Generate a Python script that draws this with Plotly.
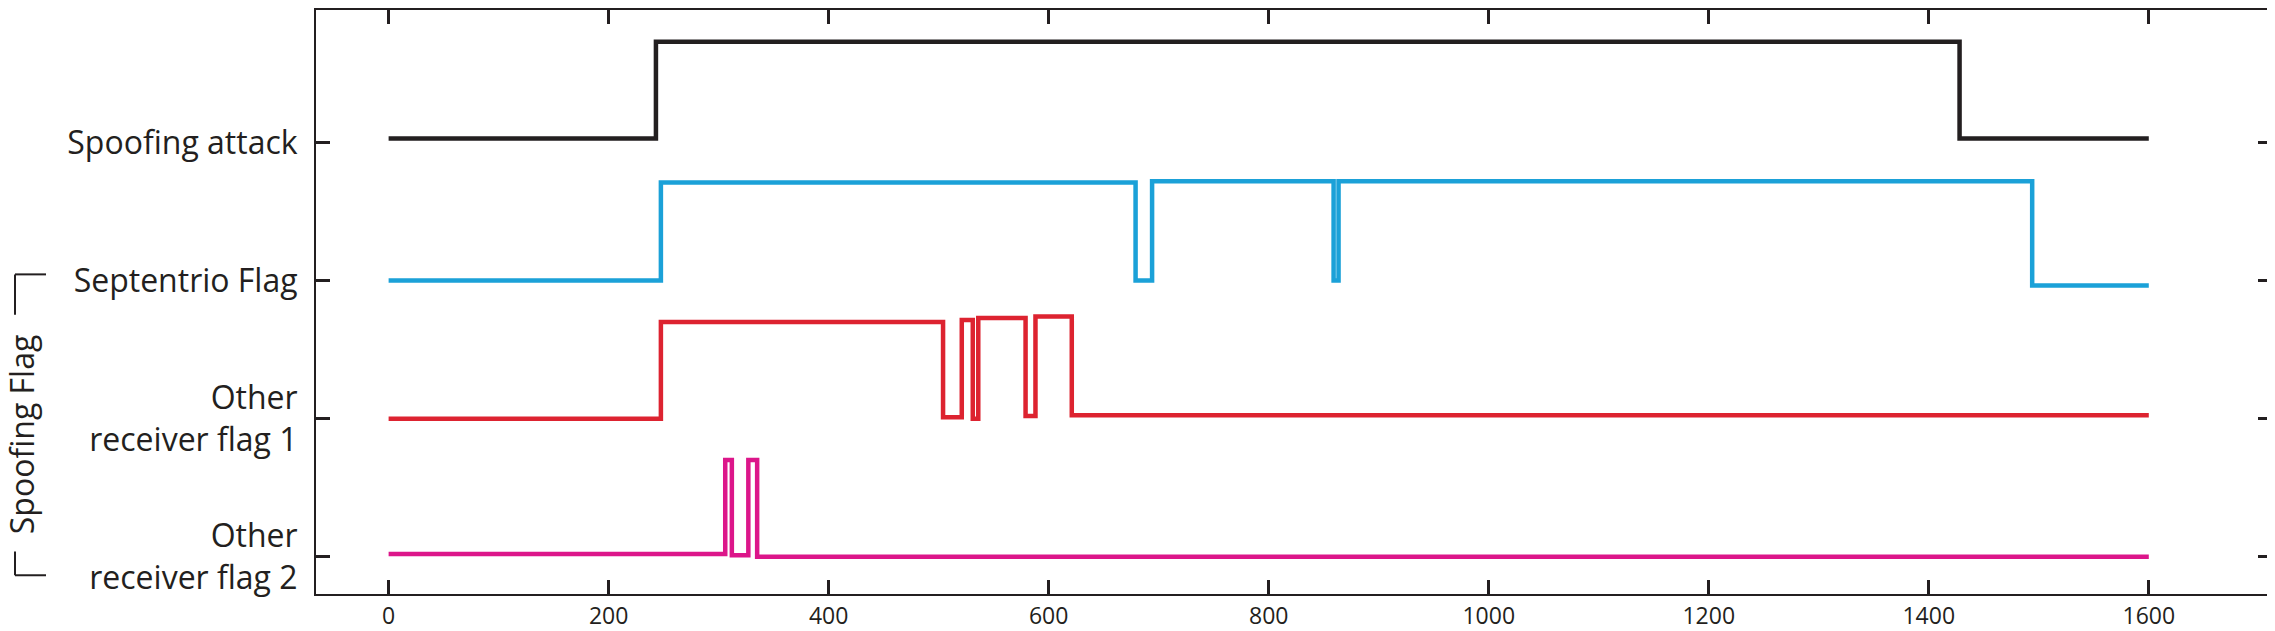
import plotly.graph_objects as go

# step signals: x = switching instants, y = level held from that instant (hv)
spoof_x = [0, 243, 1428, 1600]
spoof_y = [3.03, 3.73, 3.03, 3.03]

sept_x = [0, 247.5, 679, 694, 859, 863.5, 1494, 1600]
sept_y = [2.0, 2.71, 2.0, 2.72, 2.0, 2.72, 1.965, 1.965]

flag1_x = [0, 247.5, 504, 521, 531, 536, 579, 588, 621, 1600]
flag1_y = [1.0, 1.70, 1.01, 1.715, 1.0, 1.73, 1.02, 1.74, 1.025, 1.025]

flag2_x = [0, 306, 312, 327, 335, 1600]
flag2_y = [0.02, 0.70, 0.01, 0.70, 0.0, 0.0]

y_ticks = [0, 1, 2, 3]
y_labels = ["Other<br>receiver flag 2", "Other<br>receiver flag 1", "Septentrio Flag", "Spoofing attack"]
x_ticks = [0, 200, 400, 600, 800, 1000, 1200, 1400, 1600]

series = [
    (spoof_x, spoof_y, "#231f20"),
    (sept_x, sept_y, "#1ba1d8"),
    (flag1_x, flag1_y, "#dd2330"),
    (flag2_x, flag2_y, "#dc168a"),
]

fig = go.Figure()
for xs, ys, col in series:
    fig.add_trace(go.Scatter(x=xs, y=ys, mode="lines", line=dict(color=col, width=4.5, shape="hv"),
                             showlegend=False))

axis_common = dict(showline=True, linecolor="#231f20", linewidth=2, mirror="ticks",
                   ticks="inside", ticklen=14, tickwidth=3, tickcolor="#231f20",
                   showgrid=False, zeroline=False)

# page has an 8px body margin, so the figure is shrunk to fit the window
fig.update_layout(
    width=2267, height=623,
    margin=dict(l=308, r=3, t=0, b=31),
    plot_bgcolor="white", paper_bgcolor="white",
    font=dict(family="Open Sans", color="#231f20"),
    xaxis=dict(range=[-66, 1712], tickvals=x_ticks, tickfont=dict(size=23), **axis_common),
    yaxis=dict(range=[-0.27, 3.96], tickvals=y_ticks, ticktext=y_labels,
               tickfont=dict(size=32), ticklabelstandoff=10, **axis_common),
)

# bracket with rotated "Spoofing Flag" label (coords in window pixels)
def px(x):
    return (x - 316) / 1956

def py(y):
    return (600 - y) / 592

line = dict(color="#231f20", width=2)
for x0, y0, x1, y1 in [(15, 276, 46, 276), (15, 276, 15, 317), (15, 557, 15, 581), (15, 581, 46, 581)]:
    fig.add_shape(type="line", xref="paper", yref="paper",
                  x0=px(x0), x1=px(x1), y0=py(y0), y1=py(y1), line=line)
fig.add_annotation(text="Spoofing Flag", xref="paper", yref="paper",
                   x=px(21), y=py(438), textangle=-90,
                   showarrow=False, font=dict(size=32), xanchor="center", yanchor="middle")

fig.write_html("out.html")
